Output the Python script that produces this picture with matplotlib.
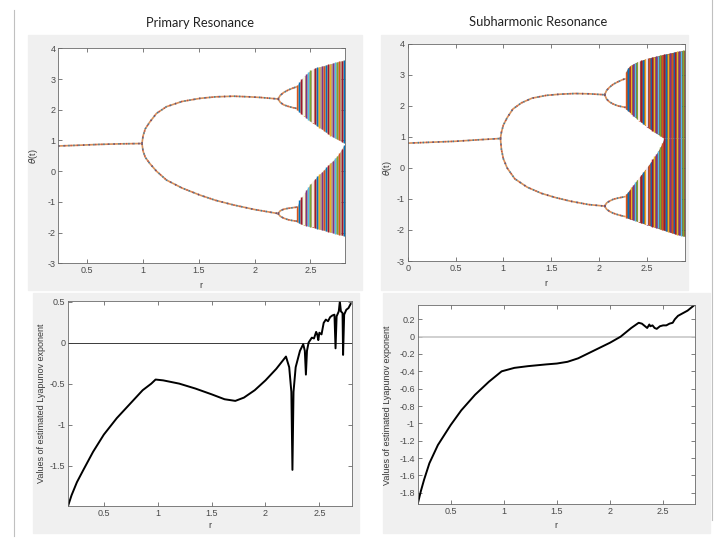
import matplotlib
matplotlib.use("Agg")
import matplotlib.pyplot as plt
from matplotlib.patches import Rectangle
from matplotlib.lines import Line2D

plt.rcParams["font.family"] = ["Liberation Sans", "DejaVu Sans"]
plt.rcParams["axes.unicode_minus"] = False

W, H = 715, 543
MATLAB_COLORS = ["#0072BD", "#D95319", "#EDB120", "#7E2F8E", "#77AC30", "#4DBEEE", "#A2142F"]
STRIPE_ORDER = [1, 0, 6, 2, 3, 5, 4, 1, 6, 0, 2, 3]

# ---------------- Primary resonance: bifurcation diagram ----------------
prim_p1_r = [0.24, 0.40, 0.60, 0.80, 0.99]
prim_p1_y = [0.82, 0.84, 0.87, 0.89, 0.90]
prim_up_r = [0.99, 1.00, 1.02, 1.06, 1.12, 1.21, 1.35, 1.51, 1.65, 1.81, 1.95, 2.05, 2.21]
prim_up_y = [0.90, 1.15, 1.38, 1.60, 1.88, 2.10, 2.27, 2.37, 2.42, 2.44, 2.42, 2.40, 2.35]
prim_lo_r = [0.99, 1.00, 1.02, 1.06, 1.12, 1.21, 1.35, 1.51, 1.65, 1.81, 2.00, 2.21]
prim_lo_y = [0.90, 0.65, 0.45, 0.25, 0.00, -0.29, -0.55, -0.78, -0.95, -1.10, -1.25, -1.38]
prim_p4_r = [2.21, 2.23, 2.26, 2.30, 2.34, 2.38]
prim_p4_a_up = [2.35, 2.47, 2.56, 2.64, 2.70, 2.75]
prim_p4_a_dn = [2.35, 2.24, 2.16, 2.11, 2.07, 2.04]
prim_p4_b_up = [-1.38, -1.29, -1.24, -1.21, -1.19, -1.17]
prim_p4_b_dn = [-1.38, -1.47, -1.53, -1.58, -1.61, -1.63]

prim_chaos_r = [2.38, 2.40, 2.42, 2.44, 2.46, 2.48, 2.50, 2.52, 2.54, 2.56, 2.58,
                2.60, 2.62, 2.64, 2.66, 2.68, 2.70, 2.72, 2.74, 2.76, 2.78, 2.80]
prim_up_top = [2.80, 2.90, 3.00, 3.08, 3.15, 3.22, 3.28, 3.32, 3.36, 3.38, 3.40,
               3.42, 3.44, 3.46, 3.48, 3.50, 3.52, 3.54, 3.56, 3.58, 3.60, 3.62]
prim_up_bot = [2.00, 1.92, 1.86, 1.80, 1.74, 1.68, 1.62, 1.57, 1.52, 1.47, 1.42,
               1.37, 1.32, 1.26, 1.21, 1.16, 1.12, 1.08, 1.04, 1.00, 0.96, 0.92]
prim_lo_top = [-1.15, -0.95, -0.85, -0.75, -0.62, -0.52, -0.42, -0.33, -0.25, -0.17, -0.10,
               -0.03, 0.05, 0.12, 0.20, 0.27, 0.34, 0.42, 0.50, 0.60, 0.72, 0.86]
prim_lo_bot = [-1.65, -1.70, -1.73, -1.75, -1.77, -1.79, -1.81, -1.83, -1.85, -1.87, -1.89,
               -1.91, -1.93, -1.95, -1.97, -1.99, -2.01, -2.03, -2.05, -2.07, -2.09, -2.11]
prim_windows = [2.44, 2.52]

# ---------------- Subharmonic resonance: bifurcation diagram ----------------
sub_p1_r = [0.00, 0.25, 0.50, 0.75, 0.97]
sub_p1_y = [0.80, 0.83, 0.86, 0.91, 0.95]
sub_up_r = [0.97, 0.98, 1.00, 1.04, 1.10, 1.19, 1.30, 1.45, 1.60, 1.75, 1.90, 2.06]
sub_up_y = [0.95, 1.15, 1.38, 1.62, 1.90, 2.10, 2.25, 2.34, 2.38, 2.40, 2.39, 2.36]
sub_lo_r = [0.97, 0.98, 1.00, 1.04, 1.12, 1.25, 1.40, 1.54, 1.70, 1.89, 2.06]
sub_lo_y = [0.95, 0.60, 0.30, 0.00, -0.35, -0.62, -0.82, -0.95, -1.07, -1.18, -1.23]
sub_p4_r = [2.06, 2.08, 2.11, 2.15, 2.20, 2.25, 2.28]
sub_p4_a_up = [2.36, 2.50, 2.60, 2.70, 2.78, 2.85, 2.88]
sub_p4_a_dn = [2.36, 2.22, 2.13, 2.06, 2.00, 1.97, 1.95]
sub_p4_b_up = [-1.23, -1.13, -1.07, -1.01, -0.97, -0.94, -0.92]
sub_p4_b_dn = [-1.23, -1.33, -1.40, -1.46, -1.51, -1.55, -1.57]

sub_chaos_r = [2.28, 2.30, 2.32, 2.34, 2.36, 2.38, 2.40, 2.42, 2.44, 2.46, 2.48,
               2.50, 2.52, 2.54, 2.56, 2.58, 2.60, 2.62, 2.64, 2.66, 2.68, 2.70,
               2.72, 2.74, 2.76, 2.78, 2.80, 2.82, 2.84, 2.86, 2.88, 2.90]
sub_up_top = [3.10, 3.22, 3.28, 3.32, 3.36, 3.39, 3.42, 3.44, 3.47, 3.49, 3.51,
              3.53, 3.55, 3.56, 3.58, 3.59, 3.61, 3.62, 3.64, 3.65, 3.67, 3.68,
              3.69, 3.71, 3.72, 3.73, 3.75, 3.76, 3.77, 3.78, 3.79, 3.80]
sub_up_bot = [1.90, 1.85, 1.80, 1.74, 1.68, 1.63, 1.58, 1.53, 1.48, 1.43, 1.38,
              1.33, 1.28, 1.24, 1.20, 1.16, 1.12, 1.08, 1.04, 1.00, 0.96, 0.96,
              0.96, 0.96, 0.96, 0.96, 0.96, 0.96, 0.96, 0.96, 0.96, 0.96]
sub_lo_top = [-0.85, -0.78, -0.70, -0.62, -0.54, -0.46, -0.38, -0.30, -0.22, -0.14, -0.06,
              0.02, 0.10, 0.19, 0.28, 0.37, 0.46, 0.56, 0.67, 0.80, 0.96, 0.96,
              0.96, 0.96, 0.96, 0.96, 0.96, 0.96, 0.96, 0.96, 0.96, 0.96]
sub_lo_bot = [-1.60, -1.62, -1.64, -1.66, -1.68, -1.70, -1.72, -1.75, -1.77, -1.79, -1.81,
              -1.83, -1.85, -1.87, -1.89, -1.91, -1.93, -1.95, -1.97, -1.99, -2.01, -2.03,
              -2.05, -2.07, -2.09, -2.11, -2.13, -2.15, -2.16, -2.18, -2.19, -2.21]
sub_windows = [2.42, 2.50]

# ---------------- Lyapunov exponents ----------------
prim_lyap_r = [0.17, 0.20, 0.25, 0.31, 0.40, 0.50, 0.62, 0.74, 0.86, 0.94, 0.98, 1.05, 1.20,
               1.35, 1.50, 1.62, 1.72, 1.80, 1.90, 2.00, 2.10, 2.19, 2.22, 2.24, 2.25, 2.26,
               2.28, 2.32, 2.35, 2.365, 2.375, 2.385, 2.40, 2.43, 2.45, 2.47, 2.48, 2.49,
               2.50, 2.52, 2.54, 2.56, 2.58, 2.60, 2.62, 2.64, 2.65, 2.66, 2.68, 2.69,
               2.70, 2.715, 2.72, 2.73, 2.75, 2.77, 2.79]
prim_lyap = [-1.98, -1.86, -1.70, -1.55, -1.33, -1.12, -0.92, -0.75, -0.58, -0.50, -0.45, -0.46,
             -0.50, -0.56, -0.63, -0.69, -0.71, -0.67, -0.58, -0.46, -0.32, -0.17, -0.30, -0.60,
             -1.55, -0.60, -0.30, -0.10, -0.02, -0.10, -0.39, -0.10, 0.00, 0.06, 0.05, 0.13,
             0.10, 0.03, 0.12, 0.10, 0.24, 0.28, 0.26, 0.31, 0.33, 0.34, -0.07, 0.32, 0.38,
             0.50, 0.38, 0.36, -0.15, 0.34, 0.40, 0.42, 0.47]

sub_lyap_r = [0.19, 0.22, 0.25, 0.30, 0.38, 0.50, 0.60, 0.73, 0.86, 0.94, 0.98, 1.10, 1.23,
              1.40, 1.50, 1.60, 1.70, 1.80, 1.90, 2.00, 2.10, 2.20, 2.27, 2.30, 2.33, 2.35,
              2.37, 2.38, 2.40, 2.42, 2.44, 2.47, 2.50, 2.53, 2.56, 2.59, 2.61, 2.64,
              2.67, 2.70, 2.73, 2.76, 2.79]
sub_lyap = [-1.93, -1.78, -1.65, -1.46, -1.25, -1.02, -0.85, -0.67, -0.52, -0.44, -0.40, -0.36,
            -0.34, -0.32, -0.31, -0.29, -0.25, -0.19, -0.13, -0.07, 0.00, 0.10, 0.16, 0.15,
            0.12, 0.10, 0.14, 0.12, 0.13, 0.10, 0.09, 0.12, 0.13, 0.13, 0.15, 0.16, 0.20,
            0.24, 0.26, 0.28, 0.30, 0.33, 0.36]

fig = plt.figure(figsize=(W / 100, H / 100), dpi=100)


def px_rect(x0, y0, x1, y1, **kw):
    fig.patches.append(Rectangle((x0 / W, 1 - y1 / H), (x1 - x0) / W, (y1 - y0) / H,
                                 transform=fig.transFigure, zorder=-10, **kw))


def px_axes(left, top, right, bottom):
    ax = fig.add_axes([left / W, 1 - bottom / H, (right - left) / W, (bottom - top) / H])
    ax.tick_params(direction="in", top=True, right=True, length=3, width=0.5,
                   labelsize=6.5, colors="#4a4a4a", pad=2)
    for s in ax.spines.values():
        s.set_color("#6a6a6a")
        s.set_linewidth(0.6)
    return ax


def branch(ax, r, y):
    ax.plot(r, y, color="#d9905a", lw=1.2, solid_capstyle="butt")
    ax.plot(r, y, color="#0072BD", lw=1.2, dashes=(0.8, 2.2), alpha=0.7)
    ax.plot(r, y, color="#A2142F", lw=1.2, dashes=(0.6, 3.1), alpha=0.6)


def chaos(ax, r, up_top, up_bot, lo_top, lo_bot, base, windows, lw):
    ax.fill_between(r, up_bot, up_top, color=base, lw=0)
    ax.fill_between(r, lo_bot, lo_top, color=base, lw=0)
    cols = [MATLAB_COLORS[STRIPE_ORDER[i % len(STRIPE_ORDER)]] for i in range(len(r))]
    ax.vlines(r, up_bot, up_top, colors=cols, lw=lw)
    ax.vlines(r, lo_bot, lo_top, colors=cols, lw=lw)
    for w in windows:
        i = r.index(w)
        ax.vlines([w], [up_bot[i]], [up_top[i]], colors="white", lw=1.2)
        ax.vlines([w], [lo_bot[i]], [lo_top[i]], colors="white", lw=1.2)


# fondos grises y separadores
px_rect(28, 35, 362, 290, color="#f0f0f0")
px_rect(381, 35, 688, 290, color="#f0f0f0")
px_rect(33, 293, 359, 533, color="#f0f0f0")
px_rect(383, 293, 710, 533, color="#f0f0f0")
fig.add_artist(Line2D([13.5 / W, 13.5 / W], [1 - 10 / H, 1 - 536 / H], color="#c0c0c0", lw=0.8))
fig.add_artist(Line2D([711.5 / W, 711.5 / W], [1.0, 1 - 520 / H], color="#c0c0c0", lw=0.8))

# --- Primary resonance, bifurcation ---
ax1 = px_axes(58.3, 48.3, 345, 263.3)
chaos(ax1, prim_chaos_r, prim_up_top, prim_up_bot, prim_lo_top, prim_lo_bot,
      "#b8a28e", prim_windows, 1.0)
branch(ax1, prim_p1_r, prim_p1_y)
branch(ax1, prim_up_r, prim_up_y)
branch(ax1, prim_lo_r, prim_lo_y)
for yy in (prim_p4_a_up, prim_p4_a_dn, prim_p4_b_up, prim_p4_b_dn):
    branch(ax1, prim_p4_r, yy)
ax1.set_xlim(0.24, 2.81)
ax1.set_ylim(-3, 4)
ax1.set_xticks([0.5, 1, 1.5, 2, 2.5])
ax1.set_xticklabels(["0.5", "1", "1.5", "2", "2.5"])

# --- Subharmonic resonance, bifurcation ---
ax2 = px_axes(407.7, 43.9, 685, 261)
chaos(ax2, sub_chaos_r, sub_up_top, sub_up_bot, sub_lo_top, sub_lo_bot,
      "#8c5846", sub_windows, 1.0)
branch(ax2, sub_p1_r, sub_p1_y)
branch(ax2, sub_up_r, sub_up_y)
branch(ax2, sub_lo_r, sub_lo_y)
for yy in (sub_p4_a_up, sub_p4_a_dn, sub_p4_b_up, sub_p4_b_dn):
    branch(ax2, sub_p4_r, yy)
ax2.set_xlim(0, 2.9)
ax2.set_ylim(-3, 4)
ax2.set_xticks([0, 0.5, 1, 1.5, 2, 2.5])
ax2.set_xticklabels(["0", "0.5", "1", "1.5", "2", "2.5"])

# --- Lyapunov, primary ---
ax3 = px_axes(68.3, 300.7, 351.7, 506)
ax3.axhline(0, color="#3a3a3a", lw=0.7)
ax3.plot(prim_lyap_r, prim_lyap, color="black", lw=1.4)
ax3.set_xlim(0.17, 2.80)
ax3.set_ylim(-1.99, 0.51)
ax3.set_xticks([0.5, 1, 1.5, 2, 2.5])
ax3.set_xticklabels(["0.5", "1", "1.5", "2", "2.5"])
ax3.set_yticks([-1.5, -1, -0.5, 0, 0.5])
ax3.set_yticklabels(["-1.5", "-1", "-0.5", "0", "0.5"])

# --- Lyapunov, subharmonic ---
ax4 = px_axes(417.7, 305, 695, 504)
ax4.axhline(0, color="#c8c8c8", lw=1.2)
ax4.plot(sub_lyap_r, sub_lyap, color="black", lw=1.4)
ax4.set_xlim(0.19, 2.80)
ax4.set_ylim(-1.93, 0.365)
ax4.set_xticks([0.5, 1, 1.5, 2, 2.5])
ax4.set_xticklabels(["0.5", "1", "1.5", "2", "2.5"])
yt = [-1.8, -1.6, -1.4, -1.2, -1, -0.8, -0.6, -0.4, -0.2, 0, 0.2]
ax4.set_yticks(yt)
ax4.set_yticklabels(["-1.8", "-1.6", "-1.4", "-1.2", "-1", "-0.8", "-0.6",
                     "-0.4", "-0.2", "0", "0.2"])

# textos
lab = dict(fontsize=6.5, color="#3a3a3a", ha="center", va="center")
fig.text(200 / W, 1 - 23 / H, "Primary Resonance", fontsize=9.3, family="Lato",
         ha="center", va="center", color="#222222")
fig.text(538 / W, 1 - 22 / H, "Subharmonic Resonance", fontsize=9.3, family="Lato",
         ha="center", va="center", color="#222222")
fig.text(201 / W, 1 - 286 / H, "r", **lab)
fig.text(546 / W, 1 - 283 / H, "r", **lab)
fig.text(210 / W, 1 - 526 / H, "r", **lab)
fig.text(556 / W, 1 - 525 / H, "r", **lab)
fig.text(34 / W, 1 - 156 / H, r"$\theta$(t)", rotation=90, **lab)
fig.text(387 / W, 1 - 168 / H, r"$\theta$(t)", rotation=90, **lab)
fig.text(42 / W, 1 - 403 / H, "Values of estimated Lyapunov exponent", rotation=90, **lab)
fig.text(388 / W, 1 - 405 / H, "Values of estimated Lyapunov exponent", rotation=90, **lab)

fig.savefig("out.png", dpi=100)
